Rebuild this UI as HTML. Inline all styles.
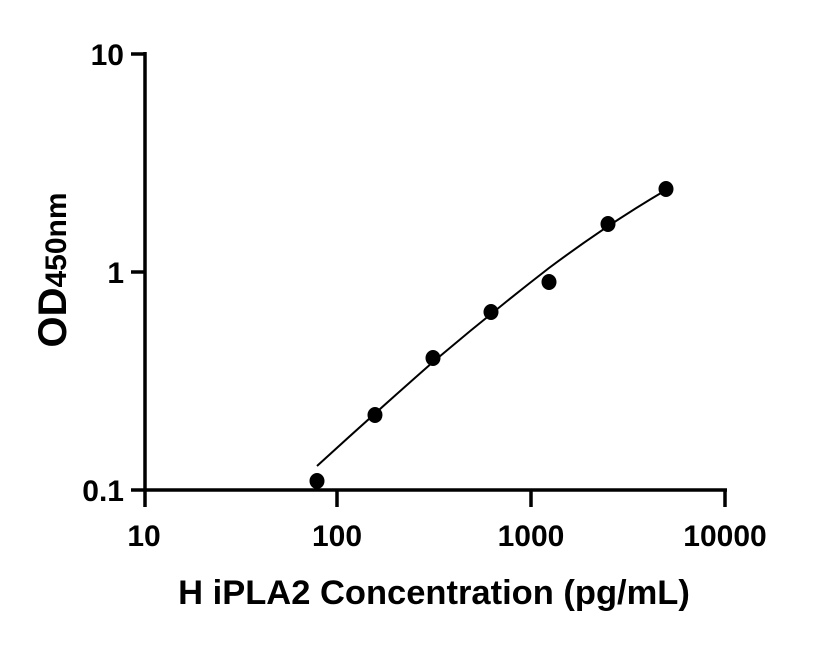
<!DOCTYPE html>
<html><head><style>body{margin:0;background:#fff}</style></head><body>
<svg width="816" height="640" xmlns="http://www.w3.org/2000/svg" font-family="Liberation Sans, sans-serif" font-weight="bold">
<g stroke="#000" stroke-width="3.5" fill="none">
<line x1="145" y1="52" x2="145" y2="507"/>
<line x1="131" y1="490" x2="727" y2="490"/>
<line x1="131" y1="54" x2="145" y2="54"/>
<line x1="131" y1="272" x2="145" y2="272"/>
<line x1="337" y1="490" x2="337" y2="507"/>
<line x1="531" y1="490" x2="531" y2="507"/>
<line x1="725" y1="490" x2="725" y2="507"/>
</g>
<path d="M317,466 Q375,413 433,362 Q491,313 549,268 Q608,224 666,190" stroke="#000" stroke-width="2" fill="none"/>
<g fill="#000">
<ellipse cx="317" cy="481" rx="7.5" ry="8"/>
<ellipse cx="375" cy="415" rx="7.5" ry="8"/>
<ellipse cx="433" cy="358" rx="7.5" ry="8"/>
<ellipse cx="491" cy="312" rx="7.5" ry="8"/>
<ellipse cx="549" cy="282" rx="7.5" ry="8"/>
<ellipse cx="608" cy="224" rx="7.5" ry="8"/>
<ellipse cx="666" cy="189" rx="7.5" ry="8"/>
</g>
<g font-size="30" text-anchor="end">
<text x="124" y="65">10</text>
<text x="124" y="283">1</text>
<text x="124" y="501">0.1</text>
</g>
<g font-size="30" text-anchor="middle">
<text x="144" y="546">10</text>
<text x="337" y="546">100</text>
<text x="531" y="546">1000</text>
<text x="725" y="546">10000</text>
</g>
<text x="434" y="604" font-size="34.5" text-anchor="middle">H iPLA2 Concentration (pg/mL)</text>
<text transform="translate(66,270) rotate(-90)" font-size="40" text-anchor="middle">OD<tspan font-size="30">450nm</tspan></text>
</svg>
</body></html>
